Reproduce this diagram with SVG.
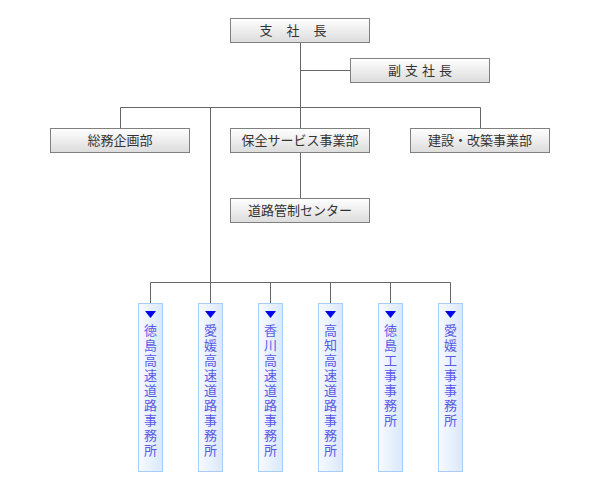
<svg xmlns="http://www.w3.org/2000/svg" width="600" height="500" viewBox="0 0 600 500">
<defs>
<linearGradient id="gg" x1="0" y1="0" x2="0" y2="1">
<stop offset="0" stop-color="#ffffff"/>
<stop offset="1" stop-color="#dcdcdc"/>
</linearGradient>
<linearGradient id="bg" x1="0" y1="0" x2="1" y2="0">
<stop offset="0" stop-color="#f7faff"/>
<stop offset="1" stop-color="#d9e8fc"/>
</linearGradient>
<style>
.g{fill:url(#gg);stroke:#808080;stroke-width:1}
.b{fill:url(#bg);stroke:#a9cdf7;stroke-width:1}
.t{font-family:"Noto Sans CJK JP","Noto Sans CJK SC",sans-serif;font-size:13px;fill:#333;text-anchor:middle}
.v{font-family:"Noto Sans CJK JP","Noto Sans CJK SC",sans-serif;font-size:13px;fill:#5a5ae6;writing-mode:vertical-rl;text-orientation:upright;letter-spacing:2px}
.c{fill:none;stroke:#666;stroke-width:1}
.a{fill:#0000ee}
</style>
</defs>
<rect width="600" height="500" fill="#fff"/>
<g id="connectors" class="c">
<path d="M300.5 42V152M300.5 70.5H350M120.5 128V107.5H480.5V128M300.5 152V198M210.5 107.5V282.5M150.5 303V282.5H450.5V303M210.5 282.5V303M270.5 282.5V303M330.5 282.5V303M390.5 282.5V303"/>
</g>
<g id="shisha"><rect class="g" x="230.5" y="18.5" width="139" height="24"/><text class="t" x="300" y="35" letter-spacing="14">支社長</text></g>
<g id="fuku"><rect class="g" x="350.5" y="58.5" width="139" height="24"/><text class="t" x="422" y="75" letter-spacing="4">副支社長</text></g>
<g id="soumu"><rect class="g" x="50.5" y="128.5" width="139" height="24"/><text class="t" x="120" y="145">総務企画部</text></g>
<g id="hozen"><rect class="g" x="230.5" y="128.5" width="139" height="24"/><text class="t" x="300" y="145">保全サービス事業部</text></g>
<g id="kensetsu"><rect class="g" x="410.5" y="128.5" width="139" height="24"/><text class="t" x="480" y="145">建設・改築事業部</text></g>
<g id="dourokansei"><rect class="g" x="230.5" y="198.5" width="139" height="24"/><text class="t" x="300" y="215">道路管制センター</text></g>
<g id="o1"><rect class="b" x="138.5" y="303.5" width="24" height="168"/><path class="a" d="M145 311H156L150.5 318Z"/><text class="v" x="150.5" y="324">徳島高速道路事務所</text></g>
<g id="o2"><rect class="b" x="198.5" y="303.5" width="24" height="168"/><path class="a" d="M205 311H216L210.5 318Z"/><text class="v" x="210.5" y="324">愛媛高速道路事務所</text></g>
<g id="o3"><rect class="b" x="258.5" y="303.5" width="24" height="168"/><path class="a" d="M265 311H276L270.5 318Z"/><text class="v" x="270.5" y="324">香川高速道路事務所</text></g>
<g id="o4"><rect class="b" x="318.5" y="303.5" width="24" height="168"/><path class="a" d="M325 311H336L330.5 318Z"/><text class="v" x="330.5" y="324">高知高速道路事務所</text></g>
<g id="o5"><rect class="b" x="378.5" y="303.5" width="24" height="168"/><path class="a" d="M385 311H396L390.5 318Z"/><text class="v" x="390.5" y="324">徳島工事事務所</text></g>
<g id="o6"><rect class="b" x="438.5" y="303.5" width="24" height="168"/><path class="a" d="M445 311H456L450.5 318Z"/><text class="v" x="450.5" y="324">愛媛工事事務所</text></g>
</svg>
